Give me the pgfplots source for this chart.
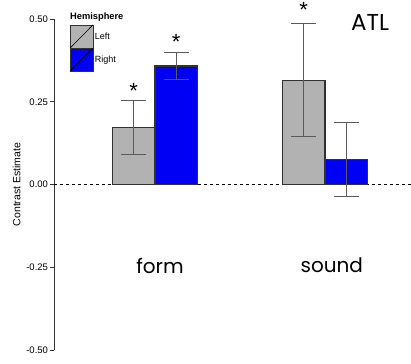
\documentclass[border=0pt]{standalone}
\usepackage{pgfplots}
\pgfplotsset{compat=1.18}
\usepackage{fontspec}
\setmainfont{Liberation Sans}
\newfontfamily\geo{Poppins}
\definecolor{barL}{RGB}{178,178,178}
\definecolor{barR}{RGB}{0,0,245}
\definecolor{edge}{RGB}{50,50,50}
\definecolor{errc}{RGB}{90,90,90}
\begin{document}
\begin{tikzpicture}
\begin{axis}[
  scale only axis,
  width=357pt, height=331pt,
  xmin=0.406, xmax=2.506,
  ymin=-0.5, ymax=0.5,
  axis x line=none,
  axis y line*=left,
  axis line style={line width=0.8pt, color=black!80},
  ytick={-0.5,-0.25,0,0.25,0.5},
  yticklabel style={font=\fontsize{9.5}{11}\selectfont, /pgf/number format/fixed, /pgf/number format/fixed zerofill, /pgf/number format/precision=2, xshift=1.5pt},
  /pgf/number format/assume math mode=true,
  tick align=outside,
  major tick length=4pt,
  tick style={line width=0.8pt, color=black!80},
  ylabel={Contrast Estimate},
  ylabel style={font=\fontsize{10.5}{12}\selectfont, yshift=-1pt},
  clip=false,
  bar width=0.25,
]
% zero line
\addplot[black, dashed, line width=0.7pt] coordinates {(0.406,0) (2.506,0)};
% Left hemisphere
\addplot[ybar, bar shift=0pt, fill=barL, draw=edge, line width=1.1pt,
  error bars/.cd, y dir=both, y explicit,
  error bar style={color=errc, line width=0.8pt},
  error mark options={rotate=90, mark size=12.5pt, color=errc, line width=0.8pt}]
  coordinates {(0.875,0.173) +- (0,0.082) (1.875,0.315) +- (0,0.171)};
% Right hemisphere
\addplot[ybar, bar shift=0pt, fill=barR, draw=edge, line width=1.1pt,
  error bars/.cd, y dir=both, y explicit,
  error bar style={color=errc, line width=0.8pt},
  error mark options={rotate=90, mark size=12.5pt, color=errc, line width=0.8pt}]
  coordinates {(1.125,0.358) +- (0,0.041) (2.125,0.076) +- (0,0.111)};
% significance stars
\addplot[only marks, mark=none, nodes near coords={*},
  every node near coord/.style={font=\fontsize{22}{22}\selectfont, anchor=center, inner sep=0pt, yshift=-5pt}]
  coordinates {(0.875,0.297) (1.125,0.445) (1.875,0.542)};
% category labels
\node[font=\geo\fontsize{20}{24}\selectfont] at (axis cs:1.03,-0.245) {form};
\node[font=\geo\fontsize{20}{24}\selectfont] at (axis cs:2.04,-0.245) {sound};
\node[font=\geo\fontsize{23}{26}\selectfont] at (axis cs:2.265,0.49) {ATL};
% legend
\node[font=\bfseries\fontsize{9.3}{10}\selectfont, anchor=west, inner sep=0pt] at (axis cs:0.5,0.505) {Hemisphere};
\draw[fill=barL, draw=edge, line width=0.8pt] (axis cs:0.5,0.412) rectangle (axis cs:0.635,0.482);
\draw[black, line width=0.6pt] (axis cs:0.5,0.412) -- (axis cs:0.635,0.482);
\draw[fill=barR, draw=edge, line width=0.8pt] (axis cs:0.5,0.342) rectangle (axis cs:0.635,0.412);
\draw[black, line width=0.6pt] (axis cs:0.5,0.342) -- (axis cs:0.635,0.412);
\node[font=\fontsize{9}{10}\selectfont, anchor=west, inner sep=1pt] at (axis cs:0.64,0.447) {Left};
\node[font=\fontsize{9}{10}\selectfont, anchor=west, inner sep=1pt] at (axis cs:0.64,0.377) {Right};
\end{axis}
\pgfresetboundingbox
\path (-54pt,-13pt) rectangle (357pt,350pt);
\end{tikzpicture}
\end{document}
